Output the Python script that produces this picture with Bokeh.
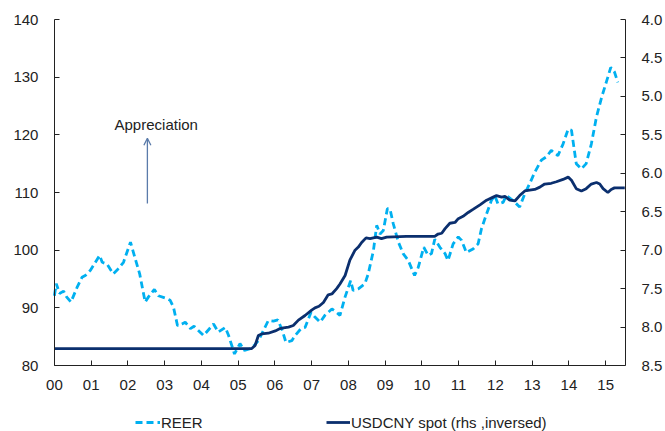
from bokeh.plotting import figure
from bokeh.models import (Range1d, LinearAxis, FixedTicker, Legend, LegendItem,
                          Label, Arrow, OpenHead, NumeralTickFormatter)
from bokeh.embed import file_html
from bokeh.resources import INLINE

# ---------------- data ----------------
reer_t = [2000.00, 2000.05, 2000.14, 2000.25, 2000.33, 2000.45, 2000.62, 2000.75, 2000.84, 2000.98,
          2001.23, 2001.30, 2001.43, 2001.60, 2001.70, 2001.88, 2002.07, 2002.20, 2002.32, 2002.47,
          2002.56, 2002.72, 2002.83, 2003.06, 2003.15, 2003.24, 2003.35, 2003.47, 2003.56, 2003.70,
          2003.80, 2004.06, 2004.33, 2004.46, 2004.65, 2004.74, 2004.90, 2005.05, 2005.17, 2005.33,
          2005.44, 2005.55, 2005.69, 2005.82, 2005.96, 2006.08, 2006.20, 2006.30, 2006.46, 2006.55,
          2006.71, 2006.82, 2006.98, 2007.09, 2007.23, 2007.36, 2007.55, 2007.68, 2007.77, 2007.91,
          2008.06, 2008.13, 2008.27, 2008.45, 2008.54, 2008.68, 2008.77, 2008.86, 2008.95, 2009.06,
          2009.13, 2009.22, 2009.36, 2009.49, 2009.63, 2009.80, 2009.90, 2010.05, 2010.17, 2010.26,
          2010.35, 2010.49, 2010.63, 2010.71, 2010.85, 2010.99, 2011.08, 2011.21, 2011.39, 2011.53,
          2011.62, 2011.76, 2011.89, 2011.98, 2012.07, 2012.21, 2012.30, 2012.48, 2012.66, 2012.80,
          2012.93, 2013.07, 2013.25, 2013.39, 2013.52, 2013.70, 2013.84, 2013.98, 2014.07, 2014.20,
          2014.34, 2014.47, 2014.61, 2014.75, 2014.89, 2015.03, 2015.14, 2015.24, 2015.33]
reer_v = [92.1, 94.2, 92.5, 92.9, 91.9, 91.0, 93.6, 95.3, 95.6, 96.5,
          99.1, 97.9, 97.6, 95.9, 96.5, 97.9, 101.4, 98.5, 95.9, 91.0,
          91.9, 93.2, 92.1, 91.6, 91.3, 90.1, 86.9, 87.2, 87.5, 86.4,
          86.8, 85.2, 87.2, 85.8, 86.6, 85.2, 82.0, 83.8, 82.6, 82.9,
          83.5, 84.3, 86.1, 87.8, 87.7, 87.9, 86.1, 84.0, 84.3, 85.2,
          86.4, 86.6, 89.2, 88.4, 87.5, 88.7, 89.8, 89.2, 88.7, 91.9,
          94.7, 93.0, 93.3, 94.2, 95.9, 99.9, 104.3, 102.8, 103.4, 107.2,
          107.2, 104.6, 101.4, 99.4, 98.2, 95.6, 97.0, 100.5, 99.1, 99.4,
          101.9, 100.5, 99.4, 98.2, 101.1, 102.3, 101.7, 99.6, 100.2, 101.1,
          103.7, 106.3, 108.6, 109.5, 108.0, 108.3, 109.5, 108.6, 107.5, 109.8,
          111.5, 113.5, 115.6, 116.2, 117.3, 116.4, 118.4, 121.0, 120.8, 115.0,
          114.1, 115.0, 118.4, 123.1, 126.5, 129.4, 131.7, 130.9, 129.1]

cny_t = [2000.00, 2005.37, 2005.46, 2005.55, 2005.64, 2005.82, 2006.01, 2006.14, 2006.23, 2006.37,
         2006.50, 2006.64, 2006.82, 2007.00, 2007.09, 2007.20, 2007.32, 2007.45, 2007.55, 2007.68,
         2007.77, 2007.91, 2008.04, 2008.18, 2008.27, 2008.36, 2008.48, 2008.59, 2008.77, 2008.90,
         2009.04, 2009.58, 2010.35, 2010.44, 2010.54, 2010.63, 2010.76, 2010.90, 2010.99, 2011.12,
         2011.26, 2011.39, 2011.58, 2011.76, 2011.94, 2012.03, 2012.17, 2012.26, 2012.39, 2012.53,
         2012.66, 2012.80, 2012.93, 2013.07, 2013.21, 2013.34, 2013.52, 2013.66, 2013.84, 2013.98,
         2014.07, 2014.20, 2014.34, 2014.47, 2014.61, 2014.75, 2014.84, 2014.93, 2015.06, 2015.15,
         2015.24, 2015.38, 2015.52]
cny_v = [8.28, 8.28, 8.24, 8.11, 8.09, 8.08, 8.05, 8.02, 8.01, 8.00,
         7.98, 7.91, 7.85, 7.78, 7.75, 7.73, 7.68, 7.58, 7.57, 7.50,
         7.44, 7.33, 7.13, 7.00, 6.96, 6.90, 6.84, 6.85, 6.83, 6.85,
         6.83, 6.82, 6.82, 6.79, 6.78, 6.72, 6.65, 6.64, 6.59, 6.56,
         6.51, 6.47, 6.41, 6.35, 6.31, 6.29, 6.31, 6.30, 6.35, 6.36,
         6.29, 6.23, 6.22, 6.21, 6.18, 6.14, 6.13, 6.11, 6.08, 6.05,
         6.09, 6.20, 6.23, 6.20, 6.14, 6.12, 6.14, 6.20, 6.25, 6.21,
         6.19, 6.19, 6.19]

year_ticks = list(range(2000, 2016))
year_labels = ["%02d" % (y - 2000) for y in year_ticks]
left_ticks = [80, 90, 100, 110, 120, 130, 140]
right_ticks = [4.0, 4.5, 5.0, 5.5, 6.0, 6.5, 7.0, 7.5, 8.0, 8.5]

# ---------------- styling ----------------
FONT = "Liberation Sans"
TXT = "#222222"
AX = "#222222"
C_REER = "#00B0F0"
C_CNY = "#0B2F6E"

# The frame spans the canvas (except the right axis panel) so that axis labels
# and the legend below the x axis are not clipped; axes are pinned at 2000 / 80.
W, H = 665, 431
AXL_PX, AXR_PX, AXT_PX, AXB_PX = 54, 626, 19, 365   # axis box in pixels
X_LO, X_HI = 2000, 2015.54
LEFT_LO, LEFT_HI = 80, 140
RIGHT_LO, RIGHT_HI = 4.0, 8.5

ppx = (AXR_PX - AXL_PX) / (X_HI - X_LO)
x_start = X_LO - AXL_PX / ppx
span_px = AXB_PX - AXT_PX
ext_bot = (H - AXB_PX) / span_px
ext_top = AXT_PX / span_px
left_start = LEFT_LO - (LEFT_HI - LEFT_LO) * ext_bot
left_end = LEFT_HI + (LEFT_HI - LEFT_LO) * ext_top
right_start = RIGHT_HI + (RIGHT_HI - RIGHT_LO) * ext_bot
right_end = RIGHT_LO - (RIGHT_HI - RIGHT_LO) * ext_top

p = figure(width=W, height=H, x_range=Range1d(x_start, X_HI),
           y_range=Range1d(left_start, left_end),
           output_backend="svg", toolbar_location=None,
           min_border_left=0, min_border_right=W - AXR_PX, min_border_top=0,
           min_border_bottom=0)
p.outline_line_color = None
p.grid.visible = False
p.background_fill_color = "white"
p.border_fill_color = "white"

p.extra_y_ranges = {"fx": Range1d(start=right_start, end=right_end)}

def style_axis(ax, standoff):
    ax.axis_line_color = AX
    ax.axis_line_width = 1
    ax.major_tick_line_color = AX
    ax.major_tick_in = 5
    ax.major_tick_out = 0
    ax.minor_tick_line_color = None
    ax.major_label_text_font = FONT
    ax.major_label_text_font_size = "15px"
    ax.major_label_text_color = TXT
    ax.major_label_standoff = standoff

xa = p.xaxis[0]
xa.ticker = FixedTicker(ticks=year_ticks)
xa.major_label_overrides = {y: l for y, l in zip(year_ticks, year_labels)}
xa.fixed_location = LEFT_LO
xa.bounds = (X_LO, X_HI)
style_axis(xa, 14)

ya = p.yaxis[0]
ya.ticker = FixedTicker(ticks=left_ticks)
ya.fixed_location = X_LO
ya.bounds = (LEFT_LO, LEFT_HI)
style_axis(ya, 16)

ra = LinearAxis(y_range_name="fx", ticker=FixedTicker(ticks=right_ticks),
                formatter=NumeralTickFormatter(format="0.0"), bounds=(RIGHT_LO, RIGHT_HI))
style_axis(ra, 16)
p.add_layout(ra, "right")

r_reer = p.line(reer_t, reer_v, line_color=C_REER, line_width=2.8, line_dash="7 4")
r_cny = p.line(cny_t, cny_v, line_color=C_CNY, line_width=2.8, y_range_name="fx")

# annotation
p.add_layout(Arrow(end=OpenHead(size=7, line_color="#5A7BAA", line_width=1.3),
                   x_start=2002.53, y_start=108.1, x_end=2002.53, y_end=119.4,
                   line_color="#5A7BAA", line_width=1.3))
p.add_layout(Label(x=2002.77, y=121.8, text="Appreciation", text_align="center",
                   text_baseline="middle", text_font=FONT, text_font_size="15px",
                   text_color=TXT))

def make_legend(label, renderer, x, gw):
    return Legend(items=[LegendItem(label=label, renderers=[renderer])],
                  orientation="horizontal", location=(x, 0),
                  glyph_width=gw, glyph_height=18, label_height=18, label_standoff=1,
                  label_text_font=FONT, label_text_font_size="15px", label_text_color=TXT,
                  border_line_color=None, background_fill_alpha=0,
                  padding=0, margin=0)

p.add_layout(make_legend("REER", r_reer, 135, 25), "center")
p.add_layout(make_legend("USDCNY spot (rhs ,inversed)", r_cny, 326, 24), "center")

open("out.html", "w").write(file_html(p, INLINE))
